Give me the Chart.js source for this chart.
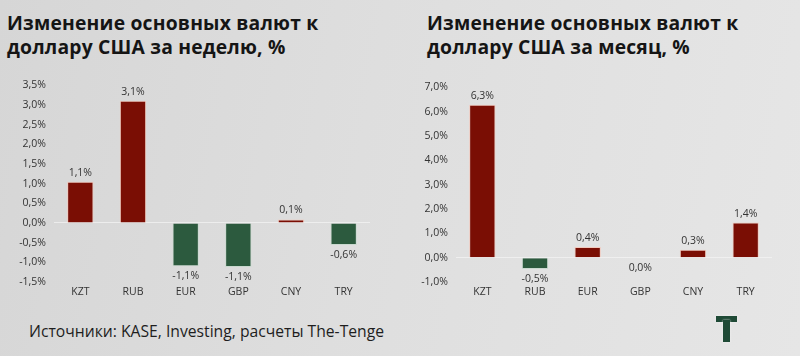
<!DOCTYPE html>
<html>
<head>
<meta charset="utf-8">
<script src="https://cdn.jsdelivr.net/npm/chart.js@4"></script>
<style>
  body { margin: 0; width: 800px; height: 356px; overflow: hidden;
    background: linear-gradient(100deg, #d6d6d6 0%, #dedede 45%, #e6e6e6 100%);
    font-family: "Open Sans", sans-serif; position: relative; }
  .title { position: absolute; top: 11px; font-weight: 700; font-size: 19.3px; line-height: 24px; color: #151515; letter-spacing: 0.2px; }
  .box { position: absolute; width: 390px; }
  .source { position: absolute; left: 29px; top: 320px; font-size: 15.7px; color: #1e1e1e; }
  .logo-h { position: absolute; left: 716px; top: 316px; width: 21px; height: 6px; background: #1f4a36; box-shadow: 0 0 2px #f4f4f4; }
  .logo-v { position: absolute; left: 723px; top: 320px; width: 7px; height: 22px; background: #1f4a36; box-shadow: 0 0 2px #f4f4f4; }
</style>
</head>
<body>
<div class="title" style="left:7px">Изменение основных валют к<br>доллару США за неделю, %</div>
<div class="title" style="left:427px">Изменение основных валют к<br>доллару США за месяц, %</div>
<div class="box" style="left:0; top:71px; height:229px"><canvas id="weekChart"></canvas></div>
<div class="box" style="left:400px; top:73px; height:227px"><canvas id="monthChart"></canvas></div>
<div class="source">Источники: KASE, Investing, расчеты The-Tenge</div>
<div class="logo-h"></div><div class="logo-v"></div>
<script>
// валюты и изменения к доллару, %
const currencies = ['KZT', 'RUB', 'EUR', 'GBP', 'CNY', 'TRY'];
const weekChange = [1.05, 3.11, -1.1, -1.12, 0.09, -0.56];
const monthChange = [6.28, -0.47, 0.44, 0, 0.33, 1.44];

const red = '#7a0e04';
const green = '#2c5a3e';

function pct(v) {
    return (Math.round(v * 10) / 10).toFixed(1).replace('.', ',') + '%';
}

// подписи значений над / под столбцами
const valueLabels = {
    id: 'valueLabels',
    afterDatasetsDraw(chart) {
        const ctx = chart.ctx;
        const meta = chart.getDatasetMeta(0);
        const data = chart.data.datasets[0].data;
        ctx.save();
        ctx.font = '10.5px "Open Sans"';
        ctx.fillStyle = '#333';
        ctx.textAlign = 'center';
        ctx.textBaseline = 'middle';
        meta.data.forEach((bar, i) => {
            const v = data[i];
            const y = v > 0 ? bar.y - 9 : bar.y + 10;
            ctx.fillText(pct(v), bar.x, y);
        });
        ctx.restore();
    }
};

function makeChart(id, values, min, max, step, yWidth, padRight) {
    const ctx = document.getElementById(id).getContext('2d');
    return new Chart(ctx, {
        type: 'bar',
        data: {
            labels: currencies,
            datasets: [{
                data: values,
                backgroundColor: values.map(v => v >= 0 ? red : green),
                borderColor: values.map(v => v >= 0 ? '#f2c9bd' : '#c9d9cf'),
                borderWidth: 1,
                categoryPercentage: 1,
                barPercentage: 0.5
            }]
        },
        options: {
            responsive: true,
            maintainAspectRatio: false,
            animation: false,
            layout: { padding: { top: 0, right: padRight, bottom: 0, left: 0 } },
            plugins: { legend: { display: false }, tooltip: { enabled: false } },
            scales: {
                x: {
                    grid: { display: false, drawTicks: false },
                    border: { display: false },
                    ticks: { color: '#333', font: { family: 'Open Sans', size: 10.5 }, padding: 4 },
                    afterFit(scale) { scale.height = 18; }
                },
                y: {
                    min: min,
                    max: max,
                    grid: {
                        drawTicks: false,
                        color: c => c.tick.value === 0 ? 'rgba(245,245,245,0.7)' : 'transparent'
                    },
                    border: { display: false },
                    ticks: {
                        stepSize: step,
                        color: '#333',
                        font: { family: 'Open Sans', size: 10.5 },
                        padding: 8,
                        callback: v => v.toFixed(1).replace('.', ',') + '%'
                    },
                    afterFit(scale) { scale.width = yWidth; }
                }
            }
        },
        plugins: [valueLabels]
    });
}

makeChart('weekChart', weekChange, -1.5, 3.5, 0.5, 54, 20);
makeChart('monthChart', monthChange, -1, 7, 1, 56, 18);
</script>
</body>
</html>
